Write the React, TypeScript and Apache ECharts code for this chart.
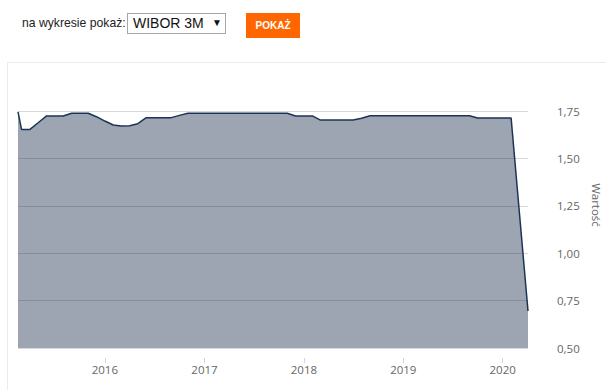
import React, { useEffect, useRef } from "react";
import * as echarts from "echarts";

const dates: string[] = [
  "2015-02-16",
  "2015-03-01", "2015-04-01", "2015-05-01", "2015-06-01", "2015-07-01", "2015-08-01",
  "2015-09-01", "2015-10-01", "2015-11-01", "2015-12-01",
  "2016-01-01", "2016-02-01", "2016-03-01", "2016-04-01", "2016-05-01", "2016-06-01",
  "2016-07-01", "2016-08-01", "2016-09-01", "2016-10-01", "2016-11-01", "2016-12-01",
  "2017-01-01", "2017-02-01", "2017-03-01", "2017-04-01", "2017-05-01", "2017-06-01",
  "2017-07-01", "2017-08-01", "2017-09-01", "2017-10-01", "2017-11-01", "2017-12-01",
  "2018-01-01", "2018-02-01", "2018-03-01", "2018-04-01", "2018-05-01", "2018-06-01",
  "2018-07-01", "2018-08-01", "2018-09-01", "2018-10-01", "2018-11-01", "2018-12-01",
  "2019-01-01", "2019-02-01", "2019-03-01", "2019-04-01", "2019-05-01", "2019-06-01",
  "2019-07-01", "2019-08-01", "2019-09-01", "2019-10-01", "2019-11-01", "2019-12-01",
  "2020-01-01", "2020-02-01",
  "2020-04-03",
];

const values: number[] = [
  1.745,
  1.653, 1.653, 1.688, 1.724, 1.724, 1.724,
  1.738, 1.738, 1.738, 1.72,
  1.697, 1.676, 1.671, 1.672, 1.683, 1.715,
  1.715, 1.715, 1.715, 1.727, 1.738, 1.738,
  1.738, 1.738, 1.738, 1.738, 1.738, 1.738,
  1.738, 1.738, 1.738, 1.738, 1.738, 1.724,
  1.724, 1.724, 1.703, 1.703, 1.703, 1.703,
  1.703, 1.712, 1.725, 1.725, 1.725, 1.725,
  1.725, 1.725, 1.725, 1.725, 1.725, 1.725,
  1.725, 1.725, 1.725, 1.713, 1.713, 1.713,
  1.713, 1.713,
  0.695,
];

const yTicks = { min: 0.5, max: 1.75, interval: 0.25 };
const labelText = "na wykresie pokaż:";
const selectText = "WIBOR 3M";
const buttonText = "POKAŻ";
const axisName = "Wartość";

export default function App() {
  const ref = useRef<HTMLDivElement>(null);

  useEffect(() => {
    if (!ref.current) return;
    const chart = echarts.init(ref.current, null, { renderer: "svg" });
    const DAY = 86400000;
    chart.setOption({
      animation: false,
      backgroundColor: "transparent",
      grid: { left: 18, right: 78, top: 111, bottom: 42, containLabel: false },
      xAxis: {
        type: "time",
        min: "dataMin",
        max: "dataMax",
        offset: 10,
        minInterval: 365 * DAY,
        maxInterval: 366 * DAY,
        axisLine: { show: false },
        axisTick: { show: true, length: 5, lineStyle: { color: "#ccd6eb", width: 1 } },
        splitLine: { show: false },
        axisLabel: {
          color: "#666666",
          fontFamily: "Open Sans",
          fontSize: 11.5,
          margin: 5,
          showMinLabel: false,
          showMaxLabel: false,
          formatter: (v: number) => String(new Date(v).getFullYear()),
        },
      },
      yAxis: {
        type: "value",
        position: "right",
        min: yTicks.min,
        max: yTicks.max,
        interval: yTicks.interval,
        axisLine: { show: false },
        axisTick: { show: false },
        splitLine: { show: true, lineStyle: { color: "#d8d8d8", width: 1 } },
        axisLabel: {
          color: "#666666",
          fontFamily: "Open Sans",
          fontSize: 11.5,
          margin: 29,
          formatter: (v: number) => v.toFixed(2).replace(".", ","),
        },
      },
      graphic: [
        {
          type: "text",
          x: 596,
          y: 205,
          rotation: -Math.PI / 2,
          style: {
            text: axisName,
            fill: "#666666",
            font: '11.5px "Open Sans"',
            textAlign: "center",
            textVerticalAlign: "middle",
          },
        },
      ],
      series: [
        {
          type: "line",
          data: dates.map((d, i) => [d, values[i]]),
          showSymbol: false,
          smooth: false,
          lineStyle: { color: "#1c3453", width: 1.5 },
          areaStyle: { color: "rgba(20,40,70,0.42)", opacity: 1, origin: "start" },
        },
      ],
    });
    return () => chart.dispose();
  }, []);

  return (
    <div
      style={{
        position: "fixed",
        left: 0,
        top: 0,
        width: 606,
        height: 390,
        background: "#fff",
        overflow: "hidden",
        fontFamily: '"Liberation Sans", Arial, sans-serif',
      }}
    >
      <div
        style={{
          position: "absolute",
          left: 7,
          top: 62,
          width: 620,
          height: 340,
          borderLeft: "1px solid #ebebeb",
          borderTop: "1px solid #ebebeb",
        }}
      />
      <div
        style={{
          position: "absolute",
          left: 22,
          top: 15,
          fontSize: 12.2,
          color: "#222",
          lineHeight: "16px",
          whiteSpace: "nowrap",
        }}
      >
        {labelText}
      </div>
      <div
        style={{
          position: "absolute",
          left: 127,
          top: 13,
          width: 97,
          height: 19,
          border: "1px solid #a6a6a6",
          background: "#fff",
          boxSizing: "content-box",
        }}
      >
        <span
          style={{
            position: "absolute",
            left: 5,
            top: 1,
            fontSize: 14,
            lineHeight: "17px",
            color: "#111",
            whiteSpace: "nowrap",
          }}
        >
          {selectText}
        </span>
        <span
          style={{
            position: "absolute",
            left: 84,
            top: 3,
            fontSize: 10,
            lineHeight: "12px",
            color: "#111",
          }}
        >
          ▼
        </span>
      </div>
      <div
        style={{
          position: "absolute",
          left: 246,
          top: 13,
          width: 54,
          height: 25,
          background: "#ff6600",
          color: "#fff",
          fontWeight: "bold",
          fontSize: 10,
          lineHeight: "25px",
          textAlign: "center",
        }}
      >
        {buttonText}
      </div>
      <div
        ref={ref}
        style={{ position: "absolute", left: 0, top: 0, width: 606, height: 390 }}
      />
    </div>
  );
}
